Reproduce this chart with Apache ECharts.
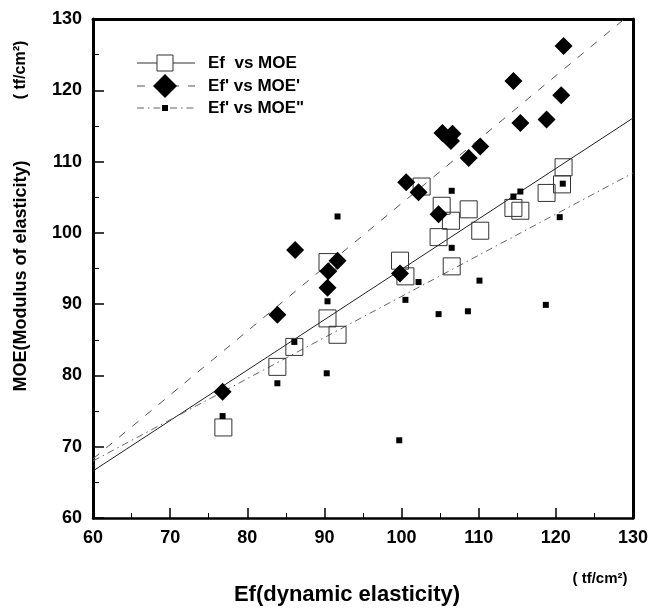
<!DOCTYPE html>
<html><head><meta charset="utf-8">
<script src="https://cdn.jsdelivr.net/npm/echarts@6/dist/echarts.min.js"></script>
<style>html,body{margin:0;padding:0;background:#fff}#c{width:651px;height:610px}</style>
</head><body><div id="c"></div>
<script>
// ---- data ----
const xTickValues = [60, 70, 80, 90, 100, 110, 120, 130];
const yTickValues = [60, 70, 80, 90, 100, 110, 120, 130];
const seriesNames = ["Ef  vs MOE", "Ef' vs MOE'", "Ef' vs MOE\""];
const xTitle = "Ef(dynamic elasticity)";
const yTitle = "MOE(Modulus of elasticity)";
const unitText = "( tf/cm\u00B2)";

// Ef vs MOE (hollow squares)
const efMoe = [
  [76.9, 72.7], [83.9, 81.2], [86.1, 84.0], [90.4, 88.0], [91.7, 85.7],
  [90.4, 95.9], [99.8, 96.1], [100.5, 93.9], [102.6, 106.5], [104.8, 99.4],
  [105.2, 103.8], [106.4, 101.7], [106.5, 95.3], [108.7, 103.3], [110.2, 100.3],
  [114.5, 103.5], [115.4, 103.1], [118.8, 105.6], [120.8, 106.8], [121.0, 109.2]
];
// Ef' vs MOE' (diamonds)
const efpMoep = [
  [76.8, 77.7], [83.9, 88.5], [86.2, 97.6], [90.4, 92.3], [90.5, 94.6],
  [91.7, 96.1], [99.8, 94.3], [100.6, 107.1], [102.2, 105.7], [104.8, 102.6],
  [105.3, 114.0], [106.6, 113.9], [106.4, 112.9], [108.7, 110.5], [110.2, 112.1],
  [114.5, 121.3], [115.4, 115.4], [118.8, 115.9], [120.7, 119.3], [121.0, 126.2]
];
// Ef' vs MOE'' (small filled squares)
const efpMoepp = [
  [76.8, 74.3], [83.9, 78.9], [86.1, 84.7], [90.3, 80.3], [90.4, 90.4],
  [91.7, 102.3], [99.7, 70.9], [100.5, 90.6], [102.2, 93.1], [104.8, 88.6],
  [106.5, 105.9], [106.5, 97.9], [108.6, 89.0], [110.1, 93.3], [114.5, 105.1],
  [115.4, 105.8], [118.7, 89.9], [120.5, 102.2], [120.9, 106.9]
];
// fitted lines (end points)
const fitEfMoe = [[60, 66.6], [130, 116.1]];
const fitEfpMoep = [[60, 68.3], [130, 131.0]];
const fitEfpMoepp = [[60, 68.0], [130, 108.4]];

// ---- chart ----
const FONT = "'Liberation Sans', Arial, sans-serif";
const chart = echarts.init(document.getElementById('c'), null, {renderer: 'canvas'});

const dash2 = [8, 9];
const dash3 = [7, 4, 1.5, 4];

const legendRows = [63, 86, 108];
const legendX0 = 137, legendX1 = 195, legendMX = 165, legendTX = 208;

const legendGraphics = [];
legendGraphics.push({type:'line', shape:{x1:legendX0,y1:legendRows[0],x2:legendX1,y2:legendRows[0]}, style:{stroke:'#333',lineWidth:1}, silent:true});
legendGraphics.push({type:'rect', shape:{x:legendMX-8,y:legendRows[0]-8,width:16,height:16}, style:{fill:'#fff',stroke:'#333',lineWidth:1}, silent:true});
legendGraphics.push({type:'line', shape:{x1:legendX0,y1:legendRows[1],x2:legendX1,y2:legendRows[1]}, style:{stroke:'#555',lineWidth:1,lineDash:dash2}, silent:true});
legendGraphics.push({type:'polygon', shape:{points:[[legendMX,legendRows[1]-12],[legendMX+12,legendRows[1]],[legendMX,legendRows[1]+12],[legendMX-12,legendRows[1]]]}, style:{fill:'#000'}, silent:true});
legendGraphics.push({type:'line', shape:{x1:legendX0,y1:legendRows[2],x2:legendX1,y2:legendRows[2]}, style:{stroke:'#666',lineWidth:1,lineDash:dash3}, silent:true});
legendGraphics.push({type:'rect', shape:{x:legendMX-3,y:legendRows[2]-3,width:6,height:6}, style:{fill:'#000'}, silent:true});
seriesNames.forEach((n, i) => {
  legendGraphics.push({type:'text', x:legendTX, y:legendRows[i], style:{text:n, font:'bold 17px ' + FONT, fill:'#000', textVerticalAlign:'middle'}, silent:true});
});

const option = {
  animation: false,
  backgroundColor: '#fff',
  grid: {left: 93, right: 15, top: 19, bottom: 92, containLabel: false},
  xAxis: [{
    type: 'value', min: xTickValues[0], max: xTickValues[xTickValues.length-1], interval: 10,
    position: 'bottom',
    axisLine: {show: true, onZero: false, lineStyle: {color: '#000', width: 2.5}},
    axisTick: {show: true, inside: true, length: 10, lineStyle: {color: '#000', width: 1.5}},
    minorTick: {show: true, splitNumber: 2, length: 5, lineStyle: {color: '#000', width: 1}},
    axisLabel: {color: '#000', fontSize: 18, fontWeight: 'bold', fontFamily: FONT, margin: 11},
    splitLine: {show: false}
  }, {
    type: 'value', min: xTickValues[0], max: xTickValues[xTickValues.length-1], position: 'top',
    axisLine: {show: true, onZero: false, lineStyle: {color: '#000', width: 3}},
    axisTick: {show: false}, axisLabel: {show: false}, splitLine: {show: false}
  }],
  yAxis: [{
    type: 'value', min: yTickValues[0], max: yTickValues[yTickValues.length-1], interval: 10,
    position: 'left',
    axisLine: {show: true, onZero: false, lineStyle: {color: '#000', width: 3}},
    axisTick: {show: true, inside: true, length: 11, lineStyle: {color: '#000', width: 1.5}},
    minorTick: {show: true, splitNumber: 2, length: 6, lineStyle: {color: '#000', width: 1}},
    axisLabel: {color: '#000', fontSize: 18, fontWeight: 'bold', fontFamily: FONT, margin: 11},
    splitLine: {show: false}
  }, {
    type: 'value', min: yTickValues[0], max: yTickValues[yTickValues.length-1], position: 'right',
    axisLine: {show: true, onZero: false, lineStyle: {color: '#000', width: 3}},
    axisTick: {show: false}, axisLabel: {show: false}, splitLine: {show: false}
  }],
  series: [
    {type: 'line', name: seriesNames[0] + ' fit', data: fitEfMoe, symbol: 'none', silent: true, z: 2,
     lineStyle: {color: '#222', width: 1, type: 'solid'}},
    {type: 'line', name: seriesNames[1] + ' fit', data: fitEfpMoep, symbol: 'none', silent: true, z: 2, clip: true,
     lineStyle: {color: '#555', width: 1, type: dash2}},
    {type: 'line', name: seriesNames[2] + ' fit', data: fitEfpMoepp, symbol: 'none', silent: true, z: 2,
     lineStyle: {color: '#666', width: 1, type: dash3}},
    {type: 'scatter', name: seriesNames[0], data: efMoe, symbol: 'rect', symbolSize: 17, z: 3, silent: true,
     itemStyle: {color: 'rgba(255,255,255,0)', borderColor: '#333', borderWidth: 1, opacity: 1}},
    {type: 'scatter', name: seriesNames[1], data: efpMoep, symbol: 'diamond', symbolSize: 18, z: 4, silent: true,
     itemStyle: {color: '#000', opacity: 1}},
    {type: 'scatter', name: seriesNames[2], data: efpMoepp, symbol: 'rect', symbolSize: 6, z: 5, silent: true,
     itemStyle: {color: '#000', opacity: 1}}
  ],
  graphic: [
    {type: 'text', x: 21, y: 276, rotation: Math.PI / 2, silent: true,
     style: {text: yTitle, font: 'bold 18px ' + FONT, fill: '#000', textAlign: 'center', textVerticalAlign: 'middle'}},
    {type: 'text', x: 21, y: 70, rotation: Math.PI / 2, silent: true,
     style: {text: unitText, font: 'bold 16px ' + FONT, fill: '#000', textAlign: 'center', textVerticalAlign: 'middle'}},
    {type: 'text', x: 347, y: 595, silent: true,
     style: {text: xTitle, font: 'bold 22px ' + FONT, fill: '#000', textAlign: 'center', textVerticalAlign: 'middle'}},
    {type: 'text', x: 600, y: 579, silent: true,
     style: {text: unitText, font: 'bold 15px ' + FONT, fill: '#000', textAlign: 'center', textVerticalAlign: 'middle'}}
  ].concat(legendGraphics)
};
chart.setOption(option);
</script>
</body></html>
